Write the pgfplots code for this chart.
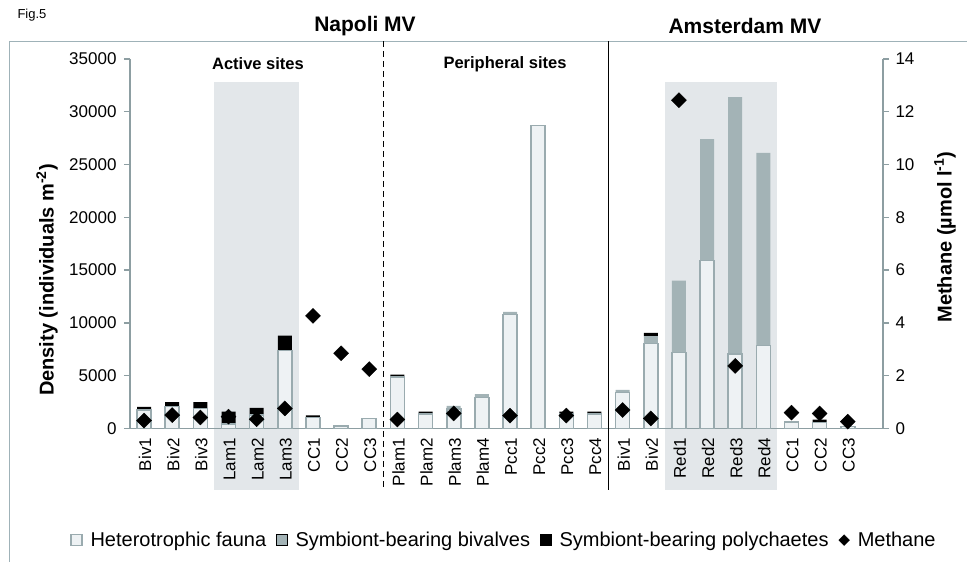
\documentclass[border=0pt]{standalone}
\usepackage{pgfplots}
\pgfplotsset{compat=1.18}
\usepackage{fontspec}
\setmainfont{Liberation Sans}
\definecolor{axc}{HTML}{8D9EA2}
\definecolor{hetfill}{HTML}{EEF2F4}
\definecolor{hetdraw}{HTML}{9AABAF}
\definecolor{bivc}{HTML}{A3B3B6}
\definecolor{shadec}{HTML}{E3E7EA}
\definecolor{framec}{HTML}{9FB2B8}
\newcommand{\tickfont}{\fontsize{17}{19}\selectfont}
\begin{document}
\begin{tikzpicture}
\path[use as bounding box] (0pt,0pt) rectangle (967pt,-562pt);
\fill[shadec] (214.4pt,-82pt) rectangle (298.9pt,-490pt);
\fill[shadec] (664.8pt,-82pt) rectangle (777.4pt,-490pt);
\draw[framec, line width=1pt] (9pt,-562pt) -- (9pt,-41pt) -- (967pt,-41pt);
\node[anchor=west, font=\fontsize{13}{15}\selectfont] at (14pt,-15pt) {Fig.5};
\node[font=\fontsize{21}{23}\selectfont\bfseries] at (365pt,-26pt) {Napoli MV};
\node[font=\fontsize{21}{23}\selectfont\bfseries] at (745pt,-26pt) {Amsterdam MV};
\node[font=\fontsize{16.5}{18}\selectfont\bfseries] at (258pt,-64pt) {Active sites};
\node[font=\fontsize{16.5}{18}\selectfont\bfseries] at (505pt,-64pt) {Peripheral sites};
\node[rotate=90, font=\fontsize{20}{22}\selectfont\bfseries] at (47pt,-280pt) {Density (individuals m\textsuperscript{-2})};
\node[rotate=90, font=\fontsize{20}{22}\selectfont\bfseries] at (945pt,-237pt) {Methane (µmol l\textsuperscript{-1})};

\begin{axis}[
  at={(130pt,-428.5pt)}, anchor=south west,
  scale only axis, width=753pt, height=369.5pt,
  xmin=-0.5, xmax=26.25, ymin=0, ymax=35000,
  clip=false,
  axis x line*=bottom, axis y line*=left,
  axis line style={draw=axc, line width=1.6pt},
  tick align=outside,
  major tick length=6pt, minor tick length=7pt,
  every tick/.style={draw=axc, line width=1.4pt},
  xtick={0,...,25},
  xtick style={draw=none},
  minor xtick={-0.5,0.5,...,25.5},
  xticklabels={Biv1,Biv2,Biv3,Lam1,Lam2,Lam3,CC1,CC2,CC3,Plam1,Plam2,Plam3,Plam4,Pcc1,Pcc2,Pcc3,Pcc4,Biv1,Biv2,Red1,Red2,Red3,Red4,CC1,CC2,CC3},
  xticklabel style={rotate=90, anchor=east, font=\tickfont, yshift=-1pt},
  ytick={0,5000,...,35000},
  scaled y ticks=false,
  yticklabel style={font=\tickfont, xshift=-4pt, /pgf/number format/1000 sep={}, /pgf/number format/assume math mode=true},
  ybar stacked, bar width=14pt,
  legend columns=4,
  legend style={at={(-0.084,-0.302)}, anchor=west, draw=none, fill=none, font=\fontsize{20}{22}\selectfont,
    /tikz/every odd column/.append style={column sep=6pt},
    /tikz/every even column/.append style={column sep=8pt},
    nodes={inner sep=2pt}},
  legend image code/.code={\draw[#1] (0pt,-5.5pt) rectangle (11pt,5.5pt);},
]
\addplot[fill=hetfill, draw=hetdraw, line width=1.6pt] coordinates {
(0,1750)(1,2100)(2,1900)(3,400)(4,1300)(5,7400)(6,1050)(7,250)(8,950)
(9,4900)(10,1400)(11,1850)(12,2950)(13,10800)(14,28700)(15,1400)(16,1400)
(17,3400)(18,8050)(19,7200)(20,15900)(21,7050)(22,7850)(23,600)(24,550)(25,200)};
\addlegendentry{Heterotrophic fauna}
\addplot[fill=bivc, draw=none] coordinates {
(0,0)(1,0)(2,0)(3,0)(4,0)(5,0)(6,0)(7,0)(8,0)
(9,0)(10,0)(11,300)(12,300)(13,250)(14,0)(15,0)(16,0)
(17,250)(18,700)(19,6800)(20,11500)(21,24350)(22,18250)(23,0)(24,0)(25,0)};
\addlegendentry{Symbiont-bearing bivalves}
\addplot[fill=black, draw=none] coordinates {
(0,300)(1,400)(2,600)(3,1200)(4,650)(5,1400)(6,200)(7,0)(8,0)
(9,200)(10,200)(11,0)(12,0)(13,0)(14,0)(15,200)(16,200)
(17,0)(18,300)(19,0)(20,0)(21,0)(22,0)(23,0)(24,300)(25,0)};
\addlegendentry{Symbiont-bearing polychaetes}
\addlegendimage{legend image code/.code={\fill[black,rotate=45] (0pt,-0pt) ++(-3.8pt,-3.8pt) rectangle ++(7.6pt,7.6pt);}}
\addlegendentry{Methane}
\draw[black, dash pattern=on 6pt off 4pt, line width=1.4pt] (axis cs:8.5,36700) -- (axis cs:8.5,-5800);
\draw[black, line width=1.6pt] (axis cs:16.5,36700) -- (axis cs:16.5,-5800);
\end{axis}

\begin{axis}[
  at={(130pt,-428.5pt)}, anchor=south west,
  scale only axis, width=753pt, height=369.5pt,
  xmin=-0.5, xmax=26.25, ymin=0, ymax=14,
  clip=false,
  axis x line=none, axis y line*=right,
  axis line style={draw=axc, line width=1.6pt},
  tick align=outside, major tick length=6pt,
  every tick/.style={draw=axc, line width=1.4pt},
  ytick={0,2,...,14},
  yticklabel style={font=\tickfont, xshift=3pt, /pgf/number format/assume math mode=true},
]
\addplot[only marks, mark=square*, mark size=5.3pt, mark options={rotate=45, fill=black, draw=black}] coordinates {
(0,0.3)(1,0.51)(2,0.42)(3,0.45)(4,0.35)(5,0.76)(6,4.27)(7,2.85)(8,2.25)
(9,0.34)(11,0.57)(13,0.49)(15,0.49)
(17,0.7)(18,0.38)(19,12.44)(21,2.37)(23,0.6)(24,0.57)(25,0.26)};
\end{axis}
\end{tikzpicture}
\end{document}
